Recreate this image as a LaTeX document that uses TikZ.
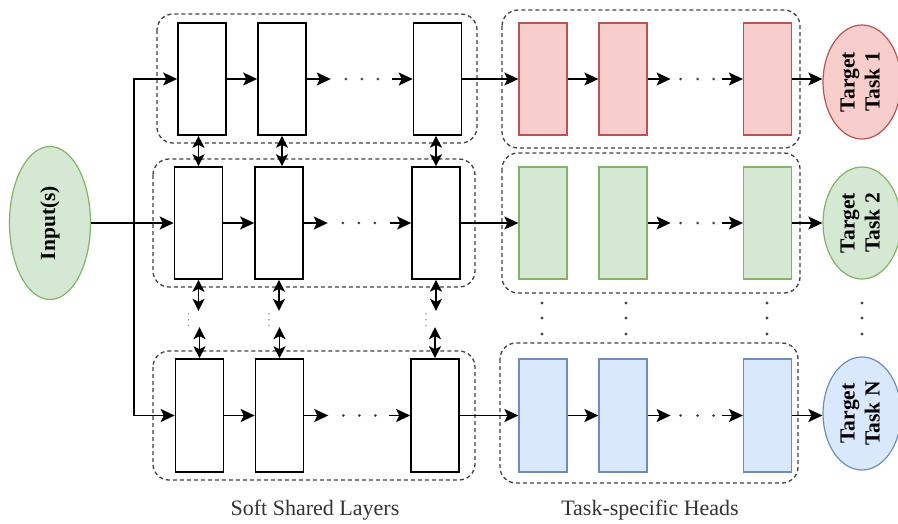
\documentclass[tikz,border=0pt]{standalone}
\usepackage{fontspec}
\setmainfont{Liberation Serif}
\usetikzlibrary{arrows.meta,shapes.geometric,calc}
\definecolor{redF}{HTML}{F8CECC}\definecolor{redD}{HTML}{B85450}
\definecolor{greenF}{HTML}{D5E8D4}\definecolor{greenD}{HTML}{82B366}
\definecolor{blueF}{HTML}{DAE8FC}\definecolor{blueD}{HTML}{6C8EBF}
\definecolor{dotc}{HTML}{444444}
\newcommand\vlabel[1]{\rotatebox{90}{\begin{tabular}{@{}c@{}}#1\end{tabular}}}
\begin{document}
\begin{tikzpicture}[x=1pt,y=-1pt,
  layer/.style={draw=black,line width=1.6pt,fill=white,minimum width=48pt,minimum height=112pt,inner sep=0pt},
  redbox/.style={layer,draw=redD,fill=redF,line width=1.2pt},
  greenbox/.style={layer,draw=greenD,fill=greenF,line width=1.2pt},
  bluebox/.style={layer,draw=blueD,fill=blueF,line width=1.2pt},
  arr/.style={line width=1.5pt,-{Stealth[length=14pt,width=13pt,inset=3pt]}},
  darr/.style={line width=1.5pt,{Stealth[length=12pt,width=12pt,inset=3pt]}-{Stealth[length=12pt,width=12pt,inset=3pt]}},
  group/.style={draw=black!75,line width=1.3pt,dash pattern=on 4pt off 3pt,rounded corners=16pt},
  oval/.style={ellipse,draw,line width=1.2pt,minimum width=78pt,minimum height=114pt,inner sep=0pt,
    font=\bfseries\fontsize{21.5}{25}\selectfont},
  caption/.style={font=\fontsize{22}{26}\selectfont,text=black!80}
]
\useasboundingbox (0,0) rectangle (898,523);

% dashed groups
\draw[group] (157,14) rectangle (477,143);
\draw[group] (153,159) rectangle (475,287);
\draw[group] (153,351) rectangle (475,480);
\draw[group] (502,10) rectangle (800,148);
\draw[group] (502,153) rectangle (800,293);
\draw[group] (500,343) rectangle (798,483);

% soft shared layers
\node[layer] (s11) at (202,79) {};
\node[layer] (s12) at (282,79) {};
\node[layer] (s13) at (437.5,79) {};
\node[layer] (s21) at (198.5,223) {};
\node[layer] (s22) at (279,223) {};
\node[layer] (s23) at (436,223) {};
\node[layer,minimum height=113pt] (s31) at (199.5,415.5) {};
\node[layer,minimum height=113pt] (s32) at (279.5,415.5) {};
\node[layer,minimum height=113pt] (s33) at (435,415.5) {};

% task-specific heads
\node[redbox] (h11) at (543,79) {};
\node[redbox] (h12) at (623,79) {};
\node[redbox] (h13) at (767.5,79) {};
\node[greenbox] (h21) at (543,223) {};
\node[greenbox] (h22) at (623,223) {};
\node[greenbox] (h23) at (767.5,223) {};
\node[bluebox,minimum height=113pt] (h31) at (543,415.5) {};
\node[bluebox,minimum height=113pt] (h32) at (623,415.5) {};
\node[bluebox,minimum height=113pt] (h33) at (767.5,415.5) {};

% input and targets
\node[oval,draw=greenD,fill=greenF,minimum width=81pt,minimum height=153pt] (in) at (50,223) {\vlabel{Input(s)}};
\node[oval,draw=redD,fill=redF] (t1) at (862,82) {\vlabel{Target\\Task 1}};
\node[oval,draw=greenD,fill=greenF,minimum height=112pt] (t2) at (862,223) {\vlabel{Target\\Task 2}};
\node[oval,draw=blueD,fill=blueF,minimum height=113pt] (t3) at (862,413.5) {\vlabel{Target\\Task N}};

% input fan-out
\coordinate (sp) at (134,223);
\draw[arr] (in.east) -- (s21.west);
\draw[arr] (sp) |- (s11.west);
\draw[arr] (sp) |- (s31.west);

% chains inside each row
\foreach \r in {1,2,3}{
  \draw[arr] (s\r1.east) -- (s\r2.west);
  \draw[arr] (s\r2.east) -- ++(24,0) coordinate (sa\r);
  \foreach \d in {39,55,71} \fill[dotc] ($(s\r2.east)+(\d,0)$) circle (1.5);
  \draw[arr] ($(s\r3.west)+(-21,0)$) coordinate (sb\r) -- (s\r3.west);
  \draw[arr] (s\r3.east) -- (h\r1.west);
  \draw[arr] (h\r2.east) -- ++(23,0) coordinate (ha\r);
  \foreach \d in {33,50,66} \fill[dotc] ($(h\r2.east)+(\d,0)$) circle (1.5);
  \draw[arr] ($(h\r3.west)+(-21,0)$) coordinate (hb\r) -- (h\r3.west);
  \draw[arr] (h\r3.east) -- (t\r.west |- h\r3.east);
}
\draw[arr] (h11.east) -- (h12.west);
\draw[arr] (h31.east) -- (h32.west);

% cross-row sharing links
\draw[darr] (s21.north |- s11.south) -- (s21.north);
\draw[darr] (s12.south) -- (s12.south |- s22.north);
\draw[darr] (s23.north |- s13.south) -- (s23.north);
\foreach \c in {1,2,3}{
  \draw[darr] (s2\c.south) -- ++(0,31) coordinate (ua\c);
  \draw[darr] ($(s3\c.north)+(0,-31)$) coordinate (ub\c) -- (s3\c.north);
  \foreach \d in {34,40,46} \fill[black!40] ($(s2\c.south)+(-10,\d)$) circle (0.9);
}

% vertical ellipsis between task rows
\foreach \x in {542,626,767,862}
  \foreach \y in {303,318,334} \fill[dotc] (\x,\y) circle (1.6);

% captions
\node[caption] (capS) at (315,510) {Soft Shared Layers};
\node[caption] (capH) at (650,510) {Task-specific Heads};
\end{tikzpicture}
\end{document}
